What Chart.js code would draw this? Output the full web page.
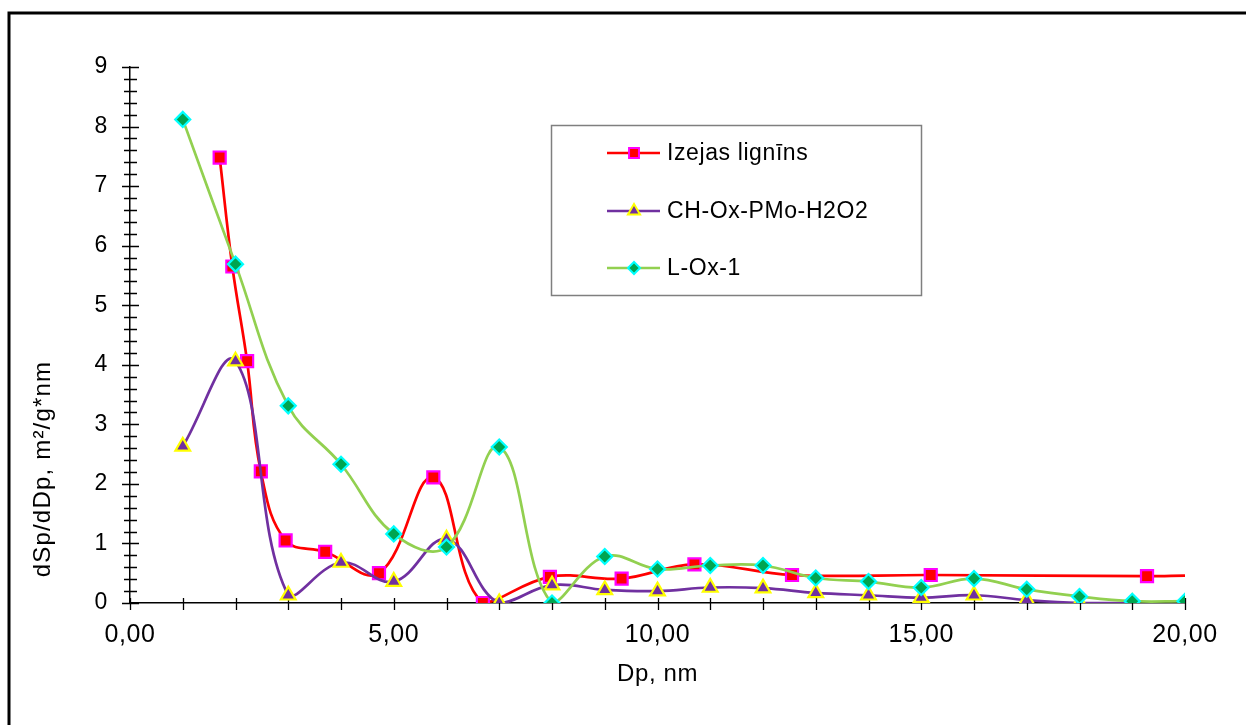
<!DOCTYPE html>
<html>
<head>
<meta charset="utf-8">
<script src="https://cdn.jsdelivr.net/npm/chart.js@4.4.1/dist/chart.umd.min.js"></script>
<style>
  html, body { margin: 0; padding: 0; background: #ffffff; }
  #wrap { width: 1246px; height: 725px; position: relative; }
</style>
</head>
<body>
<div id="wrap"><canvas id="c" width="1246" height="725"></canvas></div>
<script>
// ---- data ----
const seriesNames = ['Izejas lignīns', 'CH-Ox-PMo-H2O2', 'L-Ox-1'];

const ligninX = [1.70, 1.94, 2.22, 2.48, 2.95, 3.70, 4.72, 5.75, 6.69, 7.96, 9.32, 10.70, 12.55, 15.18, 19.28, 20.00];
const ligninY = [7.48, 5.65, 4.06, 2.21, 1.05, 0.86, 0.50, 2.11, 0.00, 0.44, 0.41, 0.65, 0.47, 0.47, 0.45, 0.46];

const chOxX = [1, 2, 3, 4, 5, 6, 7, 8, 9, 10, 11, 12, 13, 14, 15, 16, 17, 18, 19];
const chOxY = [2.63, 4.06, 0.13, 0.68, 0.36, 1.07, 0.00, 0.30, 0.22, 0.20, 0.26, 0.25, 0.17, 0.13, 0.09, 0.13, 0.05, 0.00, 0.00];

const lOxX = [1, 2, 3, 4, 5, 6, 7, 8, 9, 10, 11, 12, 13, 14, 15, 16, 17, 18, 19, 20];
const lOxY = [8.12, 5.69, 3.31, 2.33, 1.16, 0.94, 2.62, 0.00, 0.78, 0.57, 0.63, 0.63, 0.42, 0.36, 0.26, 0.41, 0.23, 0.11, 0.03, 0.03];

const xTickValues = [0, 5, 10, 15, 20];
const yTickValues = [0, 1, 2, 3, 4, 5, 6, 7, 8, 9];
const xAxisTitle = 'Dp, nm';
const yAxisTitle = 'dSp/dDp, m²/g*nm';

// ---- helpers ----
function pts(xs, ys) { return xs.map((x, i) => ({ x: x, y: ys[i] })); }
const FONT = '"Liberation Sans", Arial, sans-serif';

const styles = [
  { line: '#FF0000', fill: '#FF0000', border: '#FF00FF', pointStyle: 'rect', radius: 8.5 },
  { line: '#7030A0', fill: '#7030A0', border: '#FFFF00', pointStyle: 'triangle', radius: 8.5 },
  { line: '#92D050', fill: '#00A550', border: '#00FFFF', pointStyle: 'rectRot', radius: 7.5 }
];

const ligninRadius = ligninX.map((x, i) => i === ligninX.length - 1 ? 0 : styles[0].radius);

function ds(idx, data, radius, order) {
  const s = styles[idx];
  return {
    label: seriesNames[idx],
    data: data,
    borderColor: s.line,
    backgroundColor: s.fill,
    borderWidth: 2.7,
    pointStyle: s.pointStyle,
    pointRadius: radius,
    pointHoverRadius: radius,
    pointBackgroundColor: s.fill,
    pointBorderColor: s.border,
    pointBorderWidth: 2.2,
    tension: 0.4,
    fill: false,
    order: order
  };
}

// frame, ticks, y title, legend
const decor = {
  id: 'decor',
  beforeDraw(chart) {
    const ctx = chart.ctx;
    try { ctx.letterSpacing = '0.6px'; } catch (e) {}
    ctx.save();
    ctx.fillStyle = '#ffffff';
    ctx.fillRect(0, 0, chart.width, chart.height);
    ctx.strokeStyle = '#000000';
    ctx.lineWidth = 3;
    ctx.beginPath();
    ctx.moveTo(9, 725);
    ctx.lineTo(9, 13);
    ctx.lineTo(1246, 13);
    ctx.stroke();
    ctx.restore();
  },
  beforeDatasetsDraw(chart) {
    const ctx = chart.ctx;
    const xs = chart.scales.x, ys = chart.scales.y;
    const ax = xs.getPixelForValue(0);
    const ay = ys.getPixelForValue(0);
    ctx.save();
    ctx.strokeStyle = '#000000';
    ctx.lineWidth = 1.3;
    ctx.beginPath();
    for (let v = 0; v <= 9 + 1e-9; v += 0.2) {
      const y = Math.round(ys.getPixelForValue(v)) + 0.5;
      const major = Math.abs(v - Math.round(v)) < 1e-6;
      const l = major ? 8 : 6;
      ctx.moveTo(ax - l, y);
      ctx.lineTo(ax + (major ? 9 : 7), y);
    }
    for (let v = 0; v <= 20; v += 1) {
      const x = Math.round(xs.getPixelForValue(v)) + 0.5;
      ctx.moveTo(x, ay - 5);
      ctx.lineTo(x, ay + 7);
    }
    ctx.stroke();
    // y axis title
    ctx.translate(43, 469);
    ctx.rotate(-Math.PI / 2);
    ctx.fillStyle = '#000000';
    ctx.font = '24px ' + FONT;
    try { ctx.letterSpacing = '1.2px'; } catch (e) {}
    ctx.textAlign = 'center';
    ctx.textBaseline = 'middle';
    ctx.fillText(yAxisTitle, 0, 0);
    ctx.restore();
  },
  afterDraw(chart) {
    const ctx = chart.ctx;
    ctx.save();
    ctx.fillStyle = '#ffffff';
    ctx.fillRect(551, 125, 371, 170);
    ctx.strokeStyle = '#7f7f7f';
    ctx.lineWidth = 1.5;
    ctx.strokeRect(551.5, 125.5, 370, 170);
    const rows = [153, 211, 268];
    chart.data.datasets.forEach((d, i) => {
      const s = styles[i];
      const y = rows[i];
      ctx.strokeStyle = s.line;
      ctx.lineWidth = 2.5;
      ctx.beginPath();
      ctx.moveTo(607, y);
      ctx.lineTo(660, y);
      ctx.stroke();
      ctx.fillStyle = s.fill;
      ctx.strokeStyle = s.border;
      ctx.lineWidth = 2;
      Chart.helpers.drawPoint(ctx, { pointStyle: s.pointStyle, radius: s.radius - 1.5, rotation: 0, borderWidth: 2 }, 634, y);
      ctx.fillStyle = '#000000';
      ctx.font = '23px ' + FONT;
      ctx.textAlign = 'left';
      ctx.textBaseline = 'middle';
      ctx.fillText(seriesNames[i], 667, y + 1);
    });
    ctx.restore();
  }
};

new Chart(document.getElementById('c'), {
  type: 'line',
  data: {
    datasets: [
      ds(0, pts(ligninX, ligninY), ligninRadius, 3),
      ds(1, pts(chOxX, chOxY), styles[1].radius, 2),
      ds(2, pts(lOxX, lOxY), styles[2].radius, 1)
    ]
  },
  options: {
    responsive: false,
    animation: false,
    layout: { padding: { left: 0, top: 67, right: 61, bottom: 0 } },
    plugins: {
      legend: { display: false },
      tooltip: { enabled: false },
      title: { display: false }
    },
    elements: { line: { capBezierPoints: true } },
    scales: {
      x: {
        type: 'linear',
        min: 0, max: 20,
        afterFit(scale) { scale.height = 122; },
        afterBuildTicks(scale) { scale.ticks = xTickValues.map(v => ({ value: v })); },
        ticks: {
          color: '#000000',
          font: { family: FONT, size: 25 },
          padding: 17,
          maxRotation: 0,
          callback: v => v.toFixed(2).replace('.', ',')
        },
        grid: { display: true, drawOnChartArea: false, drawTicks: false },
        border: { display: true, color: '#000000', width: 1.5 },
        title: {
          display: true,
          text: xAxisTitle,
          color: '#000000',
          font: { family: FONT, size: 24 },
          padding: { top: 0, bottom: 36 }
        }
      },
      y: {
        type: 'linear',
        min: 0, max: 9,
        afterFit(scale) { scale.width = 130; },
        afterBuildTicks(scale) { scale.ticks = yTickValues.map(v => ({ value: v })); },
        ticks: {
          color: '#000000',
          font: { family: FONT, size: 23 },
          padding: 22,
          callback: v => String(v)
        },
        grid: { display: true, drawOnChartArea: false, drawTicks: false },
        border: { display: true, color: '#000000', width: 1.5 }
      }
    }
  },
  plugins: [decor]
});
</script>
</body>
</html>
